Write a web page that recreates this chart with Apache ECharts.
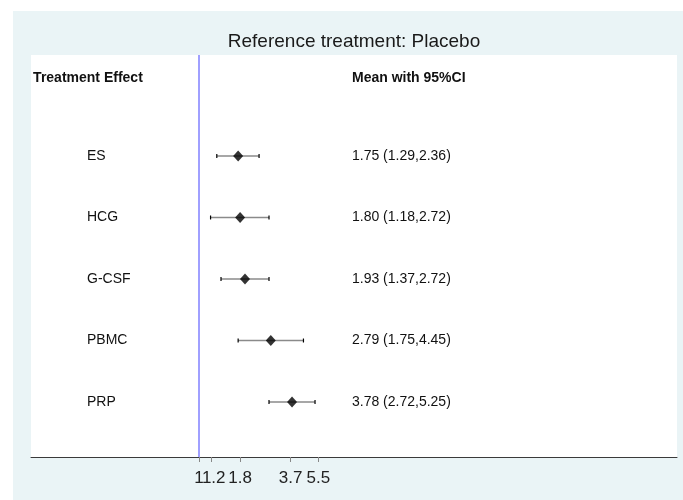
<!DOCTYPE html>
<html>
<head>
<meta charset="utf-8">
<script src="https://cdn.jsdelivr.net/npm/echarts@6/dist/echarts.min.js"></script>
<style>
  html, body { margin: 0; padding: 0; background: #fff; }
  #chart { position: absolute; left: 13px; top: 11px; width: 670px; height: 489px; }
</style>
</head>
<body>
<div id="chart"></div>
<script>
// forest plot data, reference = Placebo
const treatments = ['ES', 'HCG', 'G-CSF', 'PBMC', 'PRP']
const means = [1.75, 1.80, 1.93, 2.79, 3.78]
const lower = [1.29, 1.18, 1.37, 1.75, 2.72]
const upper = [2.36, 2.72, 2.72, 4.45, 5.25]
const tickValues = [1, 1.2, 1.8, 3.7, 5.5]
const tickLabels = ['1', '1.2', '1.8', '3.7', '5.5']

const FONT = '"Liberation Sans", Arial, sans-serif'
// x axis is log-scale (natural log of the effect)
const lnTicks = tickValues.map(v => Math.log(v))
const colName = -1.6 // column for treatment names
const colHead = -2.37
const colCI = 2.186
const headRow = -0.27
const X_MIN = -2.4
const X_MAX = 6.83

const ciText = means.map((m, i) =>
  m.toFixed(2) + ' (' + lower[i].toFixed(2) + ',' + upper[i].toFixed(2) + ')')

const textItems = []
textItems.push([colHead, headRow, 'Treatment Effect', 'bold'])
textItems.push([colCI, headRow, 'Mean with 95%CI', 'bold'])
treatments.forEach((t, i) => {
  textItems.push([colName, i + 1, t, 'normal'])
  textItems.push([colCI, i + 1, ciText[i], 'normal'])
})

function tickFormatter(v) {
  let best = 0
  lnTicks.forEach((t, i) => { if (Math.abs(t - v) < Math.abs(lnTicks[best] - v)) best = i })
  // "1.2" is nudged right a little so it doesn't run into "1"
  return best === 1 ? '{p|' + tickLabels[best] + '}' : tickLabels[best]
}

const labelStyle = {
  hideOverlap: false,
  margin: 13,
  fontFamily: FONT,
  fontSize: 17,
  color: '#222',
  formatter: tickFormatter,
  rich: {
    p: { padding: [0, 0, 0, 4], fontFamily: FONT, fontSize: 17, color: '#222' }
  }
}

const chart = echarts.init(document.getElementById('chart'))
const option = {
  backgroundColor: '#eaf4f6',
  animation: false,
  title: {
    text: 'Reference treatment: Placebo',
    left: 336,
    textAlign: 'center',
    top: 16,
    textStyle: { fontFamily: FONT, fontSize: 19, fontWeight: 'normal', color: '#1a1a1a' }
  },
  grid: {
    left: 18,
    right: 6,
    top: 44,
    bottom: 43,
    show: true,
    backgroundColor: '#fff',
    borderWidth: 0
  },
  xAxis: [
    {
      type: 'value',
      min: X_MIN,
      max: X_MAX,
      position: 'bottom',
      axisLine: { show: true, onZero: false, lineStyle: { color: '#3a3a3a', width: 1 } },
      axisTick: {
        show: true,
        length: 5,
        customValues: lnTicks,
        lineStyle: { color: '#888' }
      },
      axisLabel: Object.assign({ customValues: lnTicks.slice(1) }, labelStyle),
      splitLine: { show: false }
    },
    {
      // second axis on the same scale, only for the "1" label (it touches "1.2")
      type: 'value',
      min: X_MIN,
      max: X_MAX,
      position: 'bottom',
      axisLine: { show: false, onZero: false },
      axisTick: { show: false },
      axisLabel: Object.assign({ customValues: lnTicks.slice(0, 1) }, labelStyle),
      splitLine: { show: false }
    }
  ],
  yAxis: {
    type: 'value',
    inverse: true,
    min: -0.642,
    max: 5.894,
    show: false
  },
  series: [
    {
      // confidence intervals
      type: 'custom',
      data: treatments.map((t, i) => [Math.log(lower[i]), Math.log(upper[i]), i + 1]),
      renderItem: (params, api) => {
        const a = api.coord([api.value(0), api.value(2)])
        const b = api.coord([api.value(1), api.value(2)])
        return {
          type: 'group',
          children: [
            { type: 'line', shape: { x1: a[0], y1: a[1], x2: b[0], y2: b[1] }, style: { stroke: '#8a8a8a', lineWidth: 1.5 } },
            { type: 'line', shape: { x1: a[0], y1: a[1] - 2, x2: a[0], y2: a[1] + 2 }, style: { stroke: '#000', lineWidth: 1.2 } },
            { type: 'line', shape: { x1: b[0], y1: b[1] - 2, x2: b[0], y2: b[1] + 2 }, style: { stroke: '#000', lineWidth: 1.2 } }
          ]
        }
      },
      z: 2
    },
    {
      type: 'scatter',
      symbol: 'diamond',
      symbolSize: [10, 11],
      itemStyle: { color: '#000' },
      data: means.map((m, i) => [Math.log(m), i + 1]),
      z: 3,
      markLine: {
        silent: true,
        symbol: 'none',
        label: { show: false },
        lineStyle: { color: '#a0a0ff', width: 2, type: 'solid' },
        data: [{ xAxis: 0 }]
      }
    },
    {
      type: 'custom',
      data: textItems,
      renderItem: (params, api) => {
        const p = api.coord([api.value(0), api.value(1)])
        const item = textItems[params.dataIndex]
        return {
          type: 'text',
          x: p[0],
          y: p[1],
          style: {
            text: item[2],
            fill: '#111',
            font: item[3] + ' 14px ' + FONT,
            textAlign: 'left',
            textVerticalAlign: 'middle'
          }
        }
      }
    }
  ]
}
chart.setOption(option)
</script>
</body>
</html>
